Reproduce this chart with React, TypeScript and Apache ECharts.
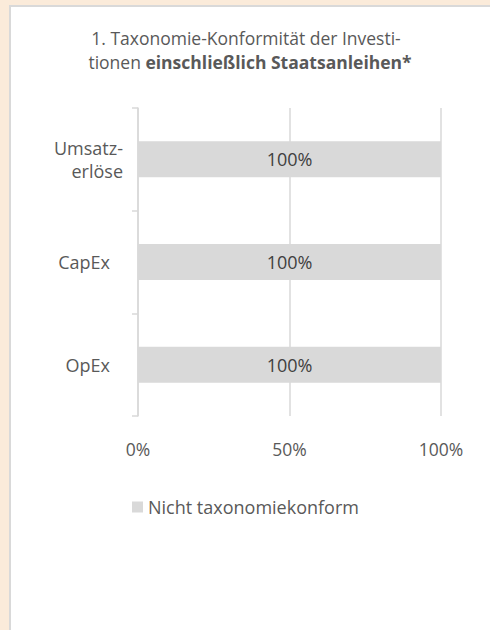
import React, { useEffect, useRef } from "react";
import * as echarts from "echarts";

const categories = ["Umsatz-\nerlöse", "CapEx", "OpEx"];
const seriesName = "Nicht taxonomiekonform";
const values = [100, 100, 100];
const xTicks = [0, 50, 100];
const titleLine1 = "1. Taxonomie-Konformität der Investi-";
const titleLine2Plain = "tionen ";
const titleLine2Bold = "einschließlich Staatsanleihen*";

export default function App() {
  const ref = useRef<HTMLDivElement>(null);
  useEffect(() => {
    if (!ref.current) return;
    const chart = echarts.init(ref.current, null, { renderer: "svg" });
    const font = "'Open Sans', sans-serif";
    chart.setOption({
      animation: false,
      backgroundColor: "#FBEBDA",
      graphic: [
        {
          type: "rect",
          z: -10,
          shape: { x: 10, y: 6, width: 500, height: 640 },
          style: { fill: "#ffffff", stroke: "#D9D9D9", lineWidth: 2 },
        },
      ],
      title: [
        {
          left: 246,
          top: 28.5,
          padding: 0,
          textAlign: "center",
          text: titleLine1,
          textStyle: {
            fontFamily: font,
            fontSize: 17.5,
            fontWeight: "normal",
            color: "#595959",
          },
        },
        {
          left: 250,
          top: 52.5,
          padding: 0,
          textAlign: "center",
          text: titleLine2Plain + "{b|" + titleLine2Bold + "}",
          textStyle: {
            fontFamily: font,
            fontSize: 17.5,
            fontWeight: "normal",
            color: "#595959",
            rich: {
              b: { fontFamily: font, fontSize: 17.5, fontWeight: "bold", color: "#595959" },
            },
          },
        },
      ],
      legend: {
        left: 127,
        top: 493,
        icon: "rect",
        itemWidth: 11,
        itemHeight: 11,
        textStyle: { fontFamily: font, fontSize: 18, color: "#595959" },
        data: [seriesName],
      },
      grid: { left: 138, right: 49, top: 108, bottom: 214, containLabel: false },
      xAxis: {
        type: "value",
        min: xTicks[0],
        max: xTicks[xTicks.length - 1],
        interval: 50,
        axisLine: { show: false },
        axisTick: { show: false },
        splitLine: { lineStyle: { color: "#D9D9D9", width: 1.5 } },
        axisLabel: {
          formatter: "{value}%",
          margin: 24,
          fontFamily: font,
          fontSize: 17.5,
          color: "#595959",
        },
      },
      yAxis: {
        type: "category",
        inverse: true,
        data: categories,
        axisLine: { show: true, lineStyle: { color: "#D9D9D9", width: 1.5 } },
        axisTick: { show: true, length: 6, lineStyle: { color: "#D9D9D9", width: 1.5 } },
        axisLabel: {
          align: "right",
          margin: 15,
          fontFamily: font,
          fontSize: 18,
          color: "#595959",
          lineHeight: 23,
          formatter: (v: string) => (v.indexOf("\n") >= 0 ? v : "{p|" + v + "}"),
          rich: {
            p: { fontFamily: font, fontSize: 18, color: "#595959", padding: [0, 13, 0, 0] },
          },
        },
      },
      series: [
        {
          name: seriesName,
          type: "bar",
          data: values,
          barCategoryGap: "65%",
          itemStyle: { color: "#D9D9D9" },
          label: {
            show: true,
            position: "inside",
            formatter: "{c}%",
            fontFamily: font,
            fontSize: 18,
            color: "#404040",
          },
        },
      ],
    });
    return () => chart.dispose();
  }, []);
  return (
    <div style={{ position: "absolute", left: 0, top: 0, width: 490, height: 630 }}>
      <div ref={ref} style={{ width: 490, height: 630 }} />
    </div>
  );
}
